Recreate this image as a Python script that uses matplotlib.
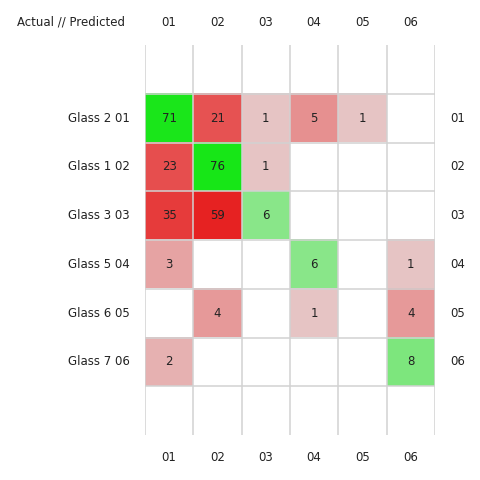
import matplotlib
matplotlib.use("Agg")
import matplotlib.pyplot as plt
import numpy as np

# 数据：混淆矩阵（行=真实，列=预测）
row_labels = ["Glass 2 01", "Glass 1 02", "Glass 3 03", "Glass 5 04", "Glass 6 05", "Glass 7 06"]
col_labels = ["01", "02", "03", "04", "05", "06"]
counts = [
    [71, 21, 1, 5, 1, 0],
    [23, 76, 1, 0, 0, 0],
    [35, 59, 6, 0, 0, 0],
    [3, 0, 0, 6, 0, 1],
    [0, 4, 0, 1, 0, 4],
    [2, 0, 0, 0, 0, 8],
]

GRID_COLOR = "#d2d2d2"
TEXT_COLOR = "#222222"
FS = 8.5
BASE = np.array([230, 230, 230]) / 255
RED = np.array([230, 0, 0]) / 255
GREEN = np.array([0, 230, 0]) / 255


def cell_colors(mat):
    """对角线绿色、非对角线红色，深浅按log(值)缩放，0为白色"""
    mat = np.asarray(mat, float)
    vmax = mat.max()
    rgb = np.ones(mat.shape + (3,))
    for i in range(mat.shape[0]):
        for j in range(mat.shape[1]):
            v = mat[i, j]
            if v <= 0:
                continue
            t = 0.9 * np.log(v + 1) / np.log(vmax + 1)
            target = GREEN if i == j else RED
            rgb[i, j] = BASE + (target - BASE) * t
    return rgb


fig = plt.figure(figsize=(4.8, 4.8), dpi=100)
ax = fig.add_axes([145 / 480, 1 - 435 / 480, 290 / 480, 390 / 480])

n_rows, n_cols = len(row_labels), len(col_labels)
ax.imshow(cell_colors(counts), extent=(-0.5, n_cols - 0.5, n_rows - 0.5, -0.5),
          aspect="auto", interpolation="nearest", zorder=1)
ax.set_xlim(-0.5, n_cols - 0.5)
ax.set_ylim(n_rows + 0.5, -1.5)

# 网格线
for x in np.arange(-0.5, n_cols, 1.0):
    ax.axvline(x, color=GRID_COLOR, lw=1.1, zorder=2)
for y in np.arange(-0.5, n_rows, 1.0):
    ax.axhline(y, color=GRID_COLOR, lw=1.1, zorder=2)

# 单元格数值
for i, row in enumerate(counts):
    for j, v in enumerate(row):
        if v > 0:
            ax.text(j, i, str(v), ha="center", va="center", fontsize=FS, color=TEXT_COLOR, zorder=3)

# 行列标签
for j, lab in enumerate(col_labels):
    ax.text(j, -1.97, lab, ha="center", va="center", fontsize=FS, color=TEXT_COLOR, clip_on=False)
    ax.text(j, n_rows + 0.97, lab, ha="center", va="center", fontsize=FS, color=TEXT_COLOR, clip_on=False)
for i, lab in enumerate(row_labels):
    ax.text(-0.81, i, lab, ha="right", va="center", fontsize=FS, color=TEXT_COLOR, clip_on=False)
    ax.text(5.96, i, col_labels[i], ha="center", va="center", fontsize=FS, color=TEXT_COLOR, clip_on=False)

fig.text(17 / 480, 1 - 22 / 480, "Actual // Predicted", ha="left", va="center", fontsize=FS, color=TEXT_COLOR)

ax.set_xticks([])
ax.set_yticks([])
for s in ax.spines.values():
    s.set_visible(False)

fig.savefig("out.png", dpi=100)
